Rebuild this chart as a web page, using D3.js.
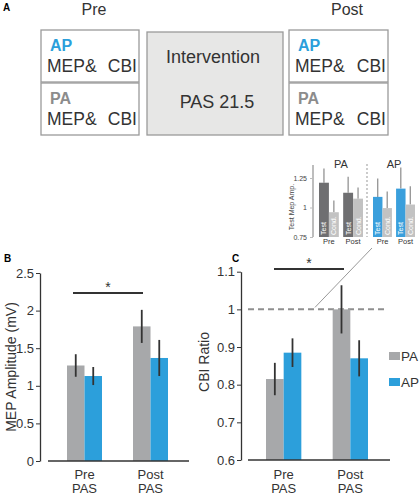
<!DOCTYPE html>
<html><head><meta charset="utf-8">
<script src="https://cdn.jsdelivr.net/npm/d3@7"></script>
<style>
body{margin:0;background:#fff;}
svg{display:block;font-family:"Liberation Sans",Arial,Helvetica,sans-serif;}
</style></head>
<body>
<script>
// ---------- DATA ----------
const groups = ["Pre PAS", "Post PAS"];
const groupLines = [["Pre", "PAS"], ["Post", "PAS"]];
const series = ["PA", "AP"];
const seriesColors = ["#a7a8aa", "#2c9fdb"];

const mepPA = [1.27, 1.79];
const mepPAErr = [0.15, 0.22];
const mepAP = [1.13, 1.37];
const mepAPErr = [0.12, 0.24];
const mepTicks = [0, 0.5, 1, 1.5, 2, 2.5];
const mepTickLabels = ["0", "0.5", "1", "1.5", "2", "2.5"];

const cbiPA = [0.815, 1.0];
const cbiPAErr = [0.043, 0.064];
const cbiAP = [0.885, 0.87];
const cbiAPErr = [0.038, 0.048];
const cbiTicks = [0.6, 0.7, 0.8, 0.9, 1.0, 1.1];
const cbiTickLabels = ["0.6", "0.7", "0.8", "0.9", "1", "1.1"];

const insetGroups = ["Pre", "Post"];
const insetKinds = ["Test", "Cond."];
const insetPATest = [1.21, 1.125];
const insetPATestErr = [0.12, 0.135];
const insetPACond = [0.96, 1.075];
const insetPACondErr = [0.10, 0.095];
const insetAPTest = [1.09, 1.16];
const insetAPTestErr = [0.155, 0.18];
const insetAPCond = [0.995, 1.025];
const insetAPCondErr = [0.14, 0.155];
const insetTicks = [0.75, 1, 1.25];
const insetTickLabels = ["0.75", "1", "1.25"];

// ---------- SVG ----------
const svg = d3.select("body").append("svg").attr("width", 420).attr("height", 495);
const dark = "#333";

// ---------- PANEL A ----------
svg.append("text").attr("x", 3).attr("y", 11).attr("font-size", 10).attr("font-weight", "bold").text("A");
svg.append("text").attr("x", 94).attr("y", 15).attr("text-anchor", "middle").attr("font-size", 16).attr("fill", dark).text("Pre");
svg.append("text").attr("x", 347).attr("y", 15).attr("text-anchor", "middle").attr("font-size", 16).attr("fill", dark).text("Post");

const boxStroke = "#9a9a9a";
function stageBox(x0, x1, y0, y1, label, color) {
  svg.append("rect").attr("x", x0).attr("y", y0).attr("width", x1 - x0).attr("height", y1 - y0)
    .attr("fill", "#fff").attr("stroke", boxStroke).attr("stroke-width", 1.3);
  svg.append("text").attr("x", x0 + 9).attr("y", y0 + 21).attr("font-size", 16).attr("font-weight", "bold")
    .attr("fill", color).text(label);
  svg.append("text").attr("x", x0 + 6).attr("y", y0 + 42).attr("font-size", 17.5).attr("fill", dark).text("MEP&");
  svg.append("text").attr("x", x1 - 2).attr("y", y0 + 42).attr("text-anchor", "end").attr("font-size", 17.5).attr("fill", dark).text("CBI");
}
stageBox(41, 139, 30, 82, "AP", "#2c9fdb");
stageBox(41, 139, 83, 135, "PA", "#8c8c8c");
stageBox(289, 388, 30, 82, "AP", "#2c9fdb");
stageBox(289, 388, 83, 135, "PA", "#8c8c8c");
svg.append("rect").attr("x", 147).attr("y", 32).attr("width", 136).attr("height", 103)
  .attr("fill", "#e7e7e6").attr("stroke", boxStroke).attr("stroke-width", 1.3);
svg.append("text").attr("x", 213).attr("y", 63).attr("text-anchor", "middle").attr("font-size", 18).attr("fill", dark).text("Intervention");
svg.append("text").attr("x", 217).attr("y", 108).attr("text-anchor", "middle").attr("font-size", 18).attr("fill", dark).text("PAS 21.5");

// ---------- helper for bar panels ----------
function barPanel(opts) {
  const g = svg.append("g");
  const y = d3.scaleLinear().domain(opts.yDomain).range(opts.yRange);
  const x = d3.scaleBand().domain(groups).range(opts.xRange).paddingInner(0.47).paddingOuter(0);
  const xs = d3.scaleBand().domain(series).range([0, x.bandwidth()]);
  const vals = [opts.pa, opts.ap], errs = [opts.paErr, opts.apErr];
  series.forEach((s, si) => {
    groups.forEach((gname, gi) => {
      g.append("rect").attr("x", x(gname) + xs(s)).attr("width", xs.bandwidth())
        .attr("y", y(vals[si][gi])).attr("height", y(opts.yDomain[0]) - y(vals[si][gi]))
        .attr("fill", seriesColors[si]);
    });
  });
  series.forEach((s, si) => {
    groups.forEach((gname, gi) => {
      const cx = x(gname) + xs(s) + xs.bandwidth() / 2;
      g.append("line").attr("x1", cx).attr("x2", cx)
        .attr("y1", y(vals[si][gi] - errs[si][gi])).attr("y2", y(vals[si][gi] + errs[si][gi]))
        .attr("stroke", dark).attr("stroke-width", 1.8);
    });
  });
  // y axis
  const ax = g.append("g").attr("transform", `translate(${opts.axisX},0)`)
    .call(d3.axisLeft(y).tickValues(opts.ticks).tickFormat((d, i) => opts.tickLabels[i]).tickSize(4).tickSizeOuter(0));
  ax.select(".domain").attr("stroke", dark).attr("stroke-width", 1.3);
  ax.selectAll(".tick line").attr("stroke", dark);
  ax.selectAll(".tick text").attr("font-size", 13).attr("fill", dark).attr("font-family", "Liberation Sans, Arial, sans-serif").attr("dx", 1);
  // x axis line
  g.append("line").attr("x1", opts.xLine[0]).attr("x2", opts.xLine[1])
    .attr("y1", y(opts.yDomain[0])).attr("y2", y(opts.yDomain[0])).attr("stroke", dark).attr("stroke-width", 1.6);
  // x labels
  groups.forEach((gname, gi) => {
    const cx = x(gname) + x.bandwidth() / 2;
    groupLines[gi].forEach((ln, li) => {
      g.append("text").attr("x", cx).attr("y", 479 + li * 14).attr("text-anchor", "middle")
        .attr("font-size", 13).attr("fill", dark).text(ln);
    });
  });
  // y label
  g.append("text").attr("transform", `translate(${opts.labelX},${opts.labelY}) rotate(-90)`)
    .attr("text-anchor", "middle").attr("font-size", 14).attr("fill", dark).text(opts.yLabel);
  // significance
  g.append("line").attr("x1", opts.sig[0]).attr("x2", opts.sig[1]).attr("y1", opts.sigY).attr("y2", opts.sigY)
    .attr("stroke", dark).attr("stroke-width", 2);
  g.append("text").attr("x", (opts.sig[0] + opts.sig[1]) / 2).attr("y", opts.sigY - 1).attr("text-anchor", "middle")
    .attr("font-size", 14).attr("fill", dark).text("*");
  return { y, x };
}

// ---------- PANEL B ----------
svg.append("text").attr("x", 4).attr("y", 262).attr("font-size", 10).attr("font-weight", "bold").text("B");
barPanel({
  yDomain: [0, 2.5], yRange: [461, 273], xRange: [67, 168], axisX: 40, xLine: [48, 189],
  pa: mepPA, ap: mepAP, paErr: mepPAErr, apErr: mepAPErr,
  ticks: mepTicks, tickLabels: mepTickLabels,
  labelX: 16, labelY: 367, yLabel: "MEP Amplitude (mV)",
  sig: [73, 143], sigY: 293
});

// ---------- PANEL C ----------
svg.append("text").attr("x", 232).attr("y", 262).attr("font-size", 10).attr("font-weight", "bold").text("C");
const C = barPanel({
  yDomain: [0.6, 1.1], yRange: [460, 271.7], xRange: [266, 368], axisX: 241, xLine: [248, 390],
  pa: cbiPA, ap: cbiAP, paErr: cbiPAErr, apErr: cbiAPErr,
  ticks: cbiTicks, tickLabels: cbiTickLabels,
  labelX: 209, labelY: 362, yLabel: "CBI Ratio",
  sig: [274, 344], sigY: 269
});
// dashed reference line at 1
svg.insert("line", "g").attr("x1", 248).attr("x2", 384).attr("y1", C.y(1)).attr("y2", C.y(1))
  .attr("stroke", "#8f8f8f").attr("stroke-width", 2).attr("stroke-dasharray", "6,4");
// connector to inset
svg.append("line").attr("x1", 315).attr("y1", C.y(1) - 2).attr("x2", 372).attr("y2", 248)
  .attr("stroke", "#999").attr("stroke-width", 1);

// legend
series.forEach((s, i) => {
  svg.append("rect").attr("x", 389).attr("y", 352 + i * 26).attr("width", 11).attr("height", 8).attr("fill", seriesColors[i]);
  svg.append("text").attr("x", 401).attr("y", 361 + i * 26).attr("font-size", 13.5).attr("fill", dark).text(s);
});

// ---------- INSET ----------
const iy = d3.scaleLinear().domain([0.75, 1.25]).range([237, 178]);
const insetSets = [
  { name: "PA", range: [319, 363], test: insetPATest, testErr: insetPATestErr, cond: insetPACond, condErr: insetPACondErr, testColor: "#6f6f71" },
  { name: "AP", range: [373, 415], test: insetAPTest, testErr: insetAPTestErr, cond: insetAPCond, condErr: insetAPCondErr, testColor: "#3a9fdc" }
];
insetSets.forEach(set => {
  const gx = d3.scaleBand().domain(insetGroups).range(set.range).paddingInner(0.18);
  const kx = d3.scaleBand().domain(insetKinds).range([0, gx.bandwidth()]);
  insetGroups.forEach((gn, gi) => {
    insetKinds.forEach((k, ki) => {
      const v = ki === 0 ? set.test[gi] : set.cond[gi];
      const e = ki === 0 ? set.testErr[gi] : set.condErr[gi];
      const bx = gx(gn) + kx(k), bw = kx.bandwidth();
      svg.append("line").attr("x1", bx + bw / 2).attr("x2", bx + bw / 2).attr("y1", iy(v)).attr("y2", iy(v + e))
        .attr("stroke", "#8a8a8a").attr("stroke-width", 1.2);
      svg.append("rect").attr("x", bx).attr("width", bw).attr("y", iy(v)).attr("height", iy(0.75) - iy(v))
        .attr("fill", ki === 0 ? set.testColor : "#c2c2c2");
      svg.append("text").attr("transform", `translate(${bx + bw / 2 + 2.5},235) rotate(-90)`)
        .attr("font-size", 7).attr("fill", "#fff").text(k);
    });
    svg.append("text").attr("x", gx(gn) + gx.bandwidth() / 2).attr("y", 244).attr("text-anchor", "middle")
      .attr("font-size", 7.5).attr("fill", dark).text(gn);
  });
  svg.append("text").attr("x", (set.range[0] + set.range[1]) / 2).attr("y", 168).attr("text-anchor", "middle")
    .attr("font-size", 11).attr("fill", dark).text(set.name);
});
// separator
svg.append("line").attr("x1", 367).attr("x2", 367).attr("y1", 164).attr("y2", 237)
  .attr("stroke", "#aaa").attr("stroke-width", 1.2).attr("stroke-dasharray", "2,2");
// inset axis
const iax = svg.append("g").attr("transform", "translate(313,0)")
  .call(d3.axisLeft(iy).tickValues(insetTicks).tickFormat((d, i) => insetTickLabels[i]).tickSize(3).tickSizeOuter(0));
iax.select(".domain").attr("d", `M0,165V${iy(0.75)}`).attr("stroke", "#bdbdbd").attr("stroke-width", 2);
iax.selectAll(".tick line").attr("stroke", "#bdbdbd");
iax.selectAll(".tick text").attr("font-size", 7).attr("fill", "#444").attr("font-family", "Liberation Sans, Arial, sans-serif");
svg.append("text").attr("transform", "translate(294,207) rotate(-90)").attr("text-anchor", "middle")
  .attr("font-size", 7).attr("fill", "#444").text("Test Mep Amp.");
</script>
</body></html>
